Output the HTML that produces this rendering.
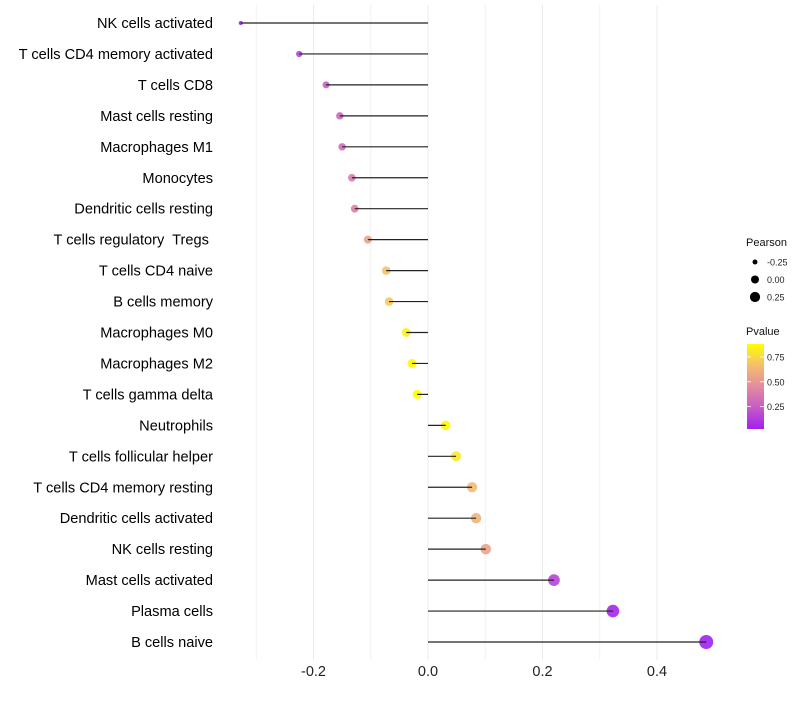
<!DOCTYPE html>
<html><head><meta charset="utf-8"><style>
body{margin:0;background:#fff;font-family:"Liberation Sans",sans-serif}
text{white-space:pre}
</style></head><body>
<svg id="c" width="800" height="700" xmlns="http://www.w3.org/2000/svg"></svg>
<script>
const categories=["NK cells activated","T cells CD4 memory activated","T cells CD8","Mast cells resting","Macrophages M1","Monocytes","Dendritic cells resting","T cells regulatory  Tregs ","T cells CD4 naive","B cells memory","Macrophages M0","Macrophages M2","T cells gamma delta","Neutrophils","T cells follicular helper","T cells CD4 memory resting","Dendritic cells activated","NK cells resting","Mast cells activated","Plasma cells","B cells naive"];
const pearson=[-0.327,-0.225,-0.178,-0.154,-0.150,-0.133,-0.128,-0.105,-0.073,-0.068,-0.038,-0.028,-0.019,0.031,0.049,0.077,0.084,0.101,0.220,0.323,0.486];
const pvalue=[0.03,0.15,0.25,0.30,0.32,0.38,0.40,0.55,0.68,0.70,0.84,0.86,0.88,0.85,0.80,0.65,0.62,0.55,0.15,0.05,0.03];
const xTicks=[-0.2,0,0.2,0.4];
const xTickLabels=["-0.2","0.0","0.2","0.4"];
const xMinor=[-0.3,-0.1,0.1,0.3];
const sizeLegend=[-0.25,0,0.25];
const sizeLegendLabels=["-0.25","0.00","0.25"];
const colorLegend=[0.25,0.5,0.75];
const colorLegendLabels=["0.25","0.50","0.75"];

const svg=document.getElementById('c');
const NS="http://www.w3.org/2000/svg";
const x=v=>428+572.5*v;
const y=i=>23+i*30.95;
const r=v=>Math.sqrt(Math.max(2,22.2+55*v));
const stops=[[0,[160,32,240]],[0.25,[200,90,200]],[0.5,[226,140,160]],[0.75,[244,190,110]],[1,[255,255,0]]];
const pmin=0.025,pmax=0.88;
function col(p){let t=Math.min(1,Math.max(0,(p-pmin)/(pmax-pmin)));
 for(let k=1;k<stops.length;k++){if(t<=stops[k][0]){const a=stops[k-1],b=stops[k];const f=(t-a[0])/(b[0]-a[0]);
 return 'rgb('+a[1].map((c,j)=>Math.round(c+(b[1][j]-c)*f)).join(',')+')';}}return 'rgb(255,255,0)';}
function el(tag,attrs,parent){const e=document.createElementNS(NS,tag);for(const k in attrs)e.setAttribute(k,attrs[k]);(parent||svg).appendChild(e);return e;}

const grid=el('g',{});


xMinor.forEach(v=>{const l=el('line',{x1:x(v),x2:x(v),y1:5,y2:660,stroke:'#f2f2f2','stroke-width':1},grid);

});
xTicks.forEach(v=>{const l=el('line',{x1:x(v),x2:x(v),y1:5,y2:660,stroke:'#ebebeb','stroke-width':1},grid);

});

xTicks.forEach((v,i)=>{const t=el('text',{x:x(v),y:676,'text-anchor':'middle','font-size':14.5,fill:'#222'});t.textContent=xTickLabels[i];

});

categories.forEach((c,i)=>{
 const t=el('text',{x:213,y:y(i)+5,'text-anchor':'end','font-size':14.6,fill:'#000'});t.textContent=c;
 
 
 const d=el('circle',{cx:x(pearson[i]),cy:y(i),r:r(pearson[i]),fill:col(pvalue[i]),'fill-opacity':0.9});
 
 
 const s=el('line',{x1:x(0),x2:x(pearson[i]),y1:y(i),y2:y(i),stroke:'#222','stroke-width':1.2});
 
 
});

const lg=el('g',{});


let tt=el('text',{x:746,y:246,'font-size':11,fill:'#111'},lg);tt.textContent='Pearson';
sizeLegend.forEach((v,i)=>{const cy=262+i*17.5;
 const c=el('circle',{cx:755,cy:cy,r:r(v)*0.85,fill:'#000'},lg);
 
 
 const t=el('text',{x:767,y:cy+3.5,'font-size':9,fill:'#222'},lg);t.textContent=sizeLegendLabels[i];});
tt=el('text',{x:746,y:335,'font-size':11,fill:'#111'},lg);tt.textContent='Pvalue';
const defs=el('defs',{});
const gr=el('linearGradient',{id:'g',x1:0,y1:1,x2:0,y2:0},defs);
[0,0.25,0.5,0.75,1].forEach(f=>el('stop',{offset:f,'stop-color':col(pmin+f*(pmax-pmin))},gr));
const bar=el('rect',{x:747,y:344,width:17,height:85,fill:'url(#g)'},lg);


colorLegend.forEach((v,i)=>{const yy=429-(v-pmin)/(pmax-pmin)*85;
 el('line',{x1:747,x2:751,y1:yy,y2:yy,stroke:'#fff','stroke-width':0.8},lg);
 el('line',{x1:760,x2:764,y1:yy,y2:yy,stroke:'#fff','stroke-width':0.8},lg);
 const t=el('text',{x:767,y:yy+3.5,'font-size':9,fill:'#222'},lg);t.textContent=colorLegendLabels[i];});
</script>
</body></html>
